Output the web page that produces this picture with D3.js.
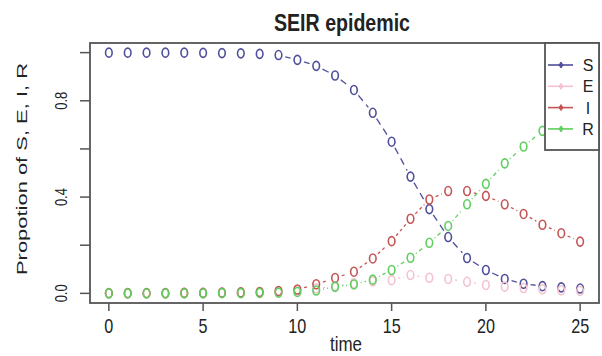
<!DOCTYPE html>
<html>
<head>
<meta charset="utf-8">
<script src="https://cdn.jsdelivr.net/npm/d3@7"></script>
<style>
  body { margin: 0; background: #fff; }
  text { fill: #222; }
</style>
</head>
<body>
<script>
// values, one per time step 0..25
var times = d3.range(0, 26);
var S = [1, 1, 1, 1, 1, 0.999, 0.998, 0.997, 0.995, 0.99, 0.97, 0.945, 0.905, 0.845, 0.75, 0.63, 0.485, 0.35, 0.234, 0.147, 0.097, 0.06, 0.04, 0.03, 0.025, 0.02];
var E = [0, 0, 0, 0, 0.002, 0.002, 0.003, 0.004, 0.005, 0.007, 0.012, 0.02, 0.03, 0.042, 0.05, 0.055, 0.076, 0.065, 0.06, 0.048, 0.035, 0.028, 0.022, 0.017, 0.013, 0.01];
var I = [0.001, 0.001, 0.001, 0.001, 0.002, 0.002, 0.003, 0.004, 0.006, 0.01, 0.016, 0.038, 0.064, 0.09, 0.145, 0.217, 0.31, 0.39, 0.425, 0.425, 0.405, 0.37, 0.33, 0.285, 0.25, 0.215];
var R = [0, 0, 0, 0, 0, 0, 0.001, 0.001, 0.002, 0.003, 0.006, 0.012, 0.027, 0.037, 0.057, 0.097, 0.148, 0.21, 0.28, 0.37, 0.455, 0.54, 0.61, 0.675, 0.72, 0.76];
var seriesNames = ["S", "E", "I", "R"];
var xTicks = [0, 5, 10, 15, 20, 25];
var yTicks = [0, 0.2, 0.4, 0.6, 0.8, 1.0];
var yLabels = [0, 0.4, 0.8];

var series = [
  { name: "S", values: S, color: "#4f4f9c", dash: "7,5" },
  { name: "E", values: E, color: "#f4c2cf", dash: "2,3" },
  { name: "I", values: I, color: "#c45555", dash: "3,3" },
  { name: "R", values: R, color: "#5fcf5f", dash: "1,3,4,3" }
];

var W = 602, H = 356;
var svg = d3.select("body").append("svg").attr("width", W).attr("height", H);

// R pads the range by 4% on each side
var x = d3.scaleLinear().domain([-1, 26]).range([90, 599]);
var y = d3.scaleLinear().domain([-0.04, 1.04]).range([303, 43]);

var narrow = "'Liberation Sans Narrow', 'Arial Narrow', 'Liberation Sans', sans-serif";
var sans = "'Liberation Sans', Arial, sans-serif";

// x axis ticks + labels (squeezed, the original font is a narrow one)
svg.append("g").selectAll("line").data(xTicks).join("line")
  .attr("x1", d => x(d)).attr("x2", d => x(d))
  .attr("y1", y.range()[0]).attr("y2", y.range()[0] + 8)
  .attr("stroke", "#555").attr("stroke-width", 1.5);
svg.append("g").selectAll("text").data(xTicks).join("text")
  .attr("x", d => x(d)).attr("y", 333)
  .attr("text-anchor", "middle")
  .attr("textLength", d => String(d).length * 9).attr("lengthAdjust", "spacingAndGlyphs")
  .style("font-family", narrow).style("font-size", "21px")
  .text(d => d);

// y axis ticks + labels (R drops every other label)
svg.append("g").selectAll("line").data(yTicks).join("line")
  .attr("x1", x.range()[0] - 10).attr("x2", x.range()[0])
  .attr("y1", d => y(d)).attr("y2", d => y(d))
  .attr("stroke", "#555").attr("stroke-width", 1.5);
svg.append("g").selectAll("text").data(yLabels).join("text")
  .attr("transform", d => "translate(67," + y(d) + ") rotate(-90)")
  .attr("text-anchor", "middle")
  .attr("textLength", 18).attr("lengthAdjust", "spacingAndGlyphs")
  .style("font-family", sans).style("font-size", "17px")
  .text(d => d3.format(".1f")(d));

// axis titles
svg.append("text")
  .attr("x", 346).attr("y", 351)
  .attr("text-anchor", "middle")
  .attr("textLength", 32).attr("lengthAdjust", "spacingAndGlyphs")
  .style("font-family", narrow).style("font-size", "21px")
  .text("time");
svg.append("text")
  .attr("transform", "translate(27,169) rotate(-90)")
  .attr("text-anchor", "middle")
  .attr("textLength", 212).attr("lengthAdjust", "spacingAndGlyphs")
  .style("font-family", sans).style("font-size", "15px")
  .text("Propotion of S, E, I, R");

svg.append("text")
  .attr("x", 342).attr("y", 31)
  .attr("text-anchor", "middle")
  .attr("textLength", 136).attr("lengthAdjust", "spacingAndGlyphs")
  .style("font-family", narrow).style("font-size", "24px").style("font-weight", "bold")
  .text("SEIR epidemic");

// type = "b": points joined by lines that stop short of each point,
// and skipped when the points are too close together
var gap = 7;
var plot = svg.append("g");
for (const s of series) {
  var pts = times.map((t, i) => [x(t), y(s.values[i])]);
  var segs = [];
  for (let i = 1; i < pts.length; i++) {
    var dx = pts[i][0] - pts[i - 1][0], dy = pts[i][1] - pts[i - 1][1];
    var d = Math.sqrt(dx * dx + dy * dy);
    if (d > 2 * gap + 5) {
      segs.push([pts[i - 1][0] + dx / d * gap, pts[i - 1][1] + dy / d * gap,
                 pts[i][0] - dx / d * gap, pts[i][1] - dy / d * gap]);
    }
  }
  plot.append("g").selectAll("line").data(segs).join("line")
    .attr("x1", d => d[0]).attr("y1", d => d[1]).attr("x2", d => d[2]).attr("y2", d => d[3])
    .attr("stroke", s.color).attr("stroke-width", 1.3).attr("stroke-dasharray", s.dash);
  plot.append("g").selectAll("ellipse").data(pts).join("ellipse")
    .attr("cx", d => d[0]).attr("cy", d => d[1])
    .attr("rx", 3.3).attr("ry", 4.5)
    .attr("fill", "none").attr("stroke", s.color).attr("stroke-width", 1.6);
}

// plot box
svg.append("rect")
  .attr("x", x.range()[0]).attr("y", y.range()[1])
  .attr("width", x.range()[1] - x.range()[0]).attr("height", y.range()[0] - y.range()[1])
  .attr("fill", "none").attr("stroke", "#555").attr("stroke-width", 1.8);

// legend, white box covering the top-right corner
var legend = svg.append("g");
legend.append("rect")
  .attr("x", 545).attr("y", y.range()[1])
  .attr("width", x.range()[1] - 545).attr("height", 150 - y.range()[1])
  .attr("fill", "#fff").attr("stroke", "#555").attr("stroke-width", 1.8);
var rows = legend.selectAll("g.row").data(series).join("g")
  .attr("class", "row")
  .attr("transform", (d, i) => "translate(0," + (65 + i * 21.3) + ")");
rows.append("line")
  .attr("x1", 548).attr("x2", 573).attr("y1", 0).attr("y2", 0)
  .attr("stroke", d => d.color).attr("stroke-width", 1.6);
rows.append("path")
  .attr("d", "M561,-3L563,0L561,3L559,0Z")
  .attr("fill", d => d.color).attr("stroke", d => d.color).attr("stroke-width", 1);
rows.append("text")
  .attr("x", 588).attr("y", 6)
  .attr("text-anchor", "middle")
  .style("font-family", sans).style("font-size", "16px")
  .text(d => d.name);
</script>
</body>
</html>
